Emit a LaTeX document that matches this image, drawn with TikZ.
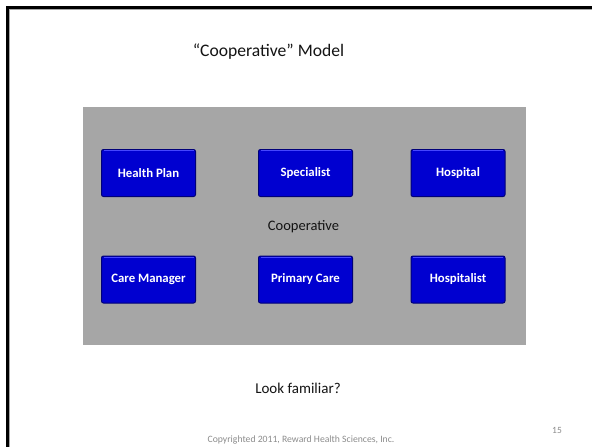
\documentclass[tikz,border=0pt]{standalone}
\usepackage{fontspec}
\setmainfont{Carlito}
\definecolor{boxfill}{RGB}{0,0,208}
\definecolor{boxedge}{RGB}{0,0,120}
\definecolor{boxhi}{RGB}{70,70,255}
\definecolor{panel}{RGB}{166,166,166}
\definecolor{txt}{RGB}{20,20,20}
\definecolor{foot}{RGB}{140,140,140}
\begin{document}
\begin{tikzpicture}[x=1pt,y=-1pt,
  boxstyle/.style={draw=boxedge,line width=1pt,
    fill=boxfill,rounded corners=2pt,
    minimum width=94pt,minimum height=47pt,inner sep=0pt,
    text=white,font=\fontsize{12.8}{15}\selectfont\bfseries},
  plain/.style={inner sep=0pt,text=txt}]
\useasboundingbox (0,0) rectangle (592,447);
\clip (0,0) rectangle (592,447);
\fill[white] (-5,-5) rectangle (597,452);
% frame
\draw[line width=3pt,black] (7.5,470) -- (7.5,7.5) -- (610,7.5);
\draw[line width=0.8pt,gray!70] (9.6,470) -- (9.6,9.6) -- (610,9.6);
% title
\node[plain,font=\fontsize{17.6}{21}\selectfont] (title) at (268.5,52) {“Cooperative” Model};
% gray panel
\fill[panel] (83,107) rectangle (525.5,344.5);
\node[plain,font=\fontsize{14.5}{17}\selectfont] (coop) at (303.5,227) {Cooperative};
% boxes
\node[boxstyle] (hp) at (148.5,173) {Health Plan};
\node[boxstyle] (sp) at (305.5,173) {Specialist};
\node[boxstyle] (ho) at (458,173) {Hospital};
\node[boxstyle] (cm) at (148.5,279.5) {Care Manager};
\node[boxstyle] (pc) at (305.5,279.5) {Primary Care};
\node[boxstyle] (hs) at (458,279.5) {Hospitalist};
% highlights
\foreach \n in {hp,sp,ho,cm,pc,hs}{
  \draw[line width=1.2pt,boxhi] ([xshift=2.5pt,yshift=-1.6pt]\n.north west) -- ([xshift=-2.5pt,yshift=-1.6pt]\n.north east);
}
\node[plain,font=\fontsize{15}{18}\selectfont] (look) at (298,388) {Look familiar?};
\node[plain,text=foot,font=\fontsize{9.7}{11}\selectfont] (copy) at (301,440) {Copyrighted 2011, Reward Health Sciences, Inc.};
\node[plain,text=foot,font=\fontsize{9.5}{11}\selectfont] (num) at (557,430) {15};
\end{tikzpicture}
\end{document}
